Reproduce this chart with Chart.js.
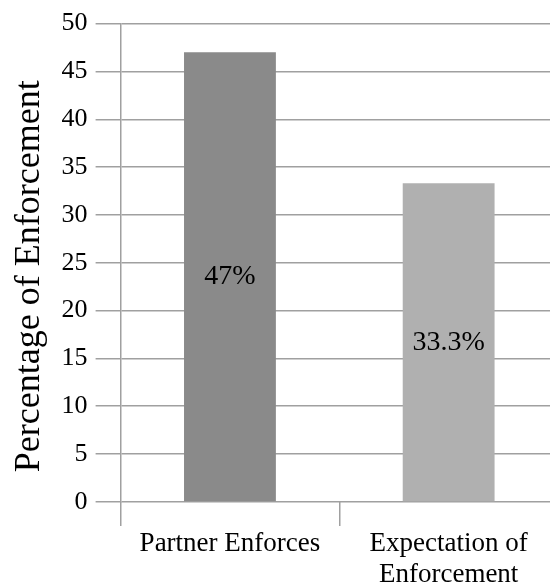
<!DOCTYPE html>
<html>
<head>
<meta charset="utf-8">
<script src="https://cdn.jsdelivr.net/npm/chart.js@4.4.0/dist/chart.umd.min.js"></script>
<style>
  html, body { margin: 0; padding: 0; background: #fff; overflow: hidden; }
  #wrap { width: 558px; height: 592px; }
</style>
</head>
<body>
<div id="wrap"><canvas id="chart"></canvas></div>
<script>
// Chart data
const categories = [['Partner Enforces'], ['Expectation of', 'Enforcement']];
const values = [47, 33.3];
const valueLabels = ['47%', '33.3%'];
const barColors = ['#8a8a8a', '#b0b0b0'];
const yTitle = 'Percentage of Enforcement';

const serif = '"Liberation Serif", "Times New Roman", serif';

// Draw the percentage text in the middle of each bar
const barLabels = {
    id: 'barLabels',
    afterDatasetsDraw(chart) {
        const ctx = chart.ctx;
        const meta = chart.getDatasetMeta(0);
        ctx.save();
        ctx.font = '28px ' + serif;
        ctx.fillStyle = '#000';
        ctx.textAlign = 'center';
        ctx.textBaseline = 'middle';
        meta.data.forEach((bar, i) => {
            const mid = (bar.y + bar.base) / 2;
            ctx.fillText(valueLabels[i], bar.x, mid);
        });
        ctx.restore();
    }
};

new Chart(document.getElementById('chart').getContext('2d'), {
    type: 'bar',
    data: {
        labels: categories,
        datasets: [{
            data: values,
            backgroundColor: barColors,
            borderWidth: 0,
            barPercentage: 0.42,
            categoryPercentage: 1
        }]
    },
    options: {
        responsive: true,
        maintainAspectRatio: false,
        animation: false,
        layout: { padding: { top: 8, left: 4, right: 0, bottom: 0 } },
        plugins: {
            legend: { display: false },
            tooltip: { enabled: false }
        },
        scales: {
            x: {
                offset: true,
                grid: {
                    display: true,
                    drawOnChartArea: false,
                    drawTicks: true,
                    tickLength: 24,
                    color: '#a0a0a0',
                    lineWidth: 1.5
                },
                border: { display: false },
                ticks: {
                    color: '#000',
                    font: { family: serif, size: 27, lineHeight: 1.15 },
                    padding: 2,
                    maxRotation: 0
                }
            },
            y: {
                min: 0,
                max: 50,
                ticks: {
                    stepSize: 5,
                    color: '#000',
                    font: { family: serif, size: 26 },
                    padding: 8
                },
                grid: {
                    color: '#a0a0a0',
                    lineWidth: 1.5,
                    tickLength: 25
                },
                border: { display: true, color: '#a0a0a0', width: 1.5 },
                title: {
                    display: true,
                    // trailing spaces nudge the rotated title down a little
                    text: yTitle + '\u00a0\u00a0\u00a0',
                    color: '#000',
                    font: { family: serif, size: 36, lineHeight: 1.1 },
                    padding: { top: 6, bottom: 4 }
                }
            }
        }
    },
    plugins: [barLabels]
});
</script>
</body>
</html>
